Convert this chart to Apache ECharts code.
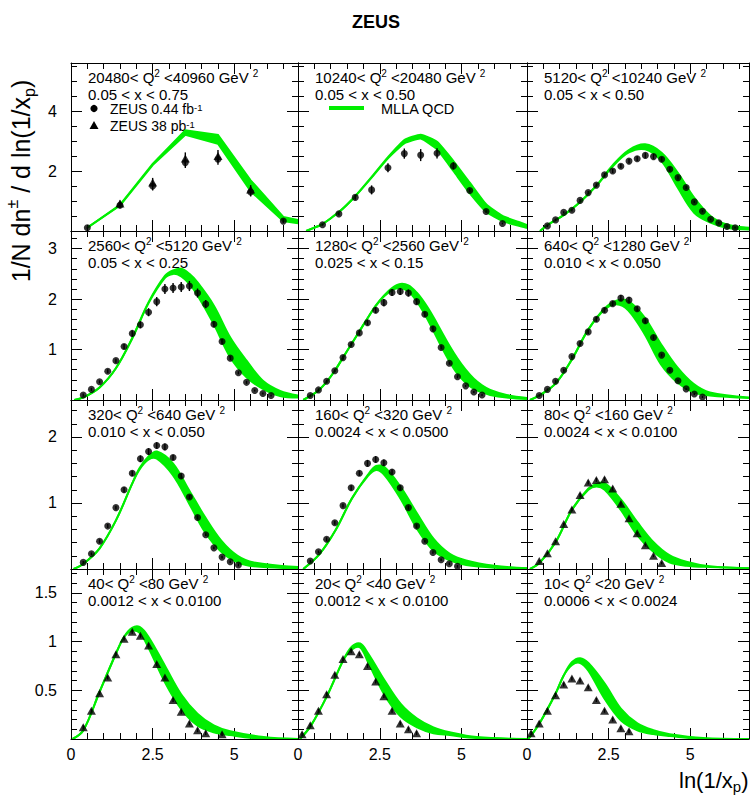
<!DOCTYPE html>
<html>
<head>
<meta charset="utf-8">
<script src="https://cdn.jsdelivr.net/npm/echarts@6/dist/echarts.min.js"></script>
<style>
  html, body { margin: 0; padding: 0; background: #fff; }
  #chart { width: 750px; height: 797px; }
</style>
</head>
<body>
<div id="chart"></div>
<script>
// ---- panel labels ----
const q2Lo = [20480, 10240, 5120, 2560, 1280, 640, 320, 160, 80, 40, 20, 10];
const q2Hi = [40960, 20480, 10240, 5120, 2560, 1280, 640, 320, 160, 80, 40, 20];
const xBins = ['0.05 < x < 0.75', '0.05 < x < 0.50', '0.05 < x < 0.50', '0.05 < x < 0.25',
  '0.025 < x < 0.15', '0.010 < x < 0.050', '0.010 < x < 0.050', '0.0024 < x < 0.0500',
  '0.0024 < x < 0.0100', '0.0012 < x < 0.0100', '0.0012 < x < 0.0100', '0.0006 < x < 0.0024'];

// ---- ZEUS 0.44 fb-1 (circles): [ln(1/xp), value, error] ----
const circ1 = [[0.5,0.11,0.04],[1.5,0.86,0.1],[2.5,1.5,0.15],[3.5,2.28,0.18],[4.5,2.39,0.18],[5.5,1.3,0.15],[6.5,0.33,0.06]];
const circ2 = [[0.75,0.21,0.03],[1.25,0.57,0.05],[1.75,1.12,0.08],[2.25,1.37,0.15],[2.75,2.11,0.15],[3.25,2.58,0.17],
  [3.75,2.53,0.2],[4.25,2.59,0.17],[4.75,2.17,0.12],[5.25,1.35,0.06],[5.75,0.65,0.04],[6.25,0.25,0.03]];
const circ3 = [[0.625,0.17,0.04],[0.875,0.37,0.04],[1.125,0.62,0.04],[1.375,0.69,0.04],[1.625,1.02,0.05],[1.875,1.28,0.05],
  [2.125,1.53,0.06],[2.375,1.87,0.06],[2.625,2.0,0.07],[2.875,2.16,0.07],[3.125,2.33,0.08],[3.375,2.41,0.08],
  [3.625,2.52,0.09],[3.875,2.48,0.09],[4.125,2.39,0.08],[4.375,2.06,0.07],[4.625,1.78,0.06],[4.875,1.45,0.05],
  [5.125,0.97,0.04],[5.375,0.66,0.04],[5.625,0.39,0.03],[5.875,0.27,0.03],[6.125,0.15,0.03],[6.375,0.11,0.03]];
const circ4 = [[0.375,0.1,0.03],[0.625,0.21,0.03],[0.875,0.36,0.03],[1.125,0.57,0.04],[1.375,0.78,0.04],[1.625,1.06,0.05],
  [1.875,1.32,0.06],[2.125,1.49,0.07],[2.375,1.74,0.08],[2.625,1.95,0.09],[2.875,2.2,0.1],[3.125,2.22,0.1],
  [3.375,2.24,0.1],[3.625,2.26,0.1],[3.875,2.12,0.09],[4.125,1.9,0.08],[4.375,1.5,0.06],[4.625,1.16,0.05],
  [4.875,0.83,0.04],[5.125,0.54,0.03],[5.375,0.35,0.03],[5.625,0.19,0.02],[5.875,0.13,0.02],[6.125,0.09,0.02]];
const circ5 = [[0.375,0.09,0.02],[0.625,0.2,0.03],[0.875,0.37,0.03],[1.125,0.58,0.03],[1.375,0.84,0.04],[1.625,1.1,0.04],
  [1.875,1.33,0.05],[2.125,1.53,0.05],[2.375,1.78,0.06],[2.625,1.93,0.07],[2.875,2.13,0.07],[3.125,2.15,0.07],
  [3.375,2.12,0.07],[3.625,1.95,0.06],[3.875,1.7,0.05],[4.125,1.41,0.05],[4.375,1.04,0.04],[4.625,0.73,0.03],
  [4.875,0.46,0.03],[5.125,0.28,0.02],[5.375,0.16,0.02],[5.625,0.1,0.02]];
const circ6 = [[0.375,0.09,0.02],[0.625,0.21,0.02],[0.875,0.37,0.03],[1.125,0.59,0.03],[1.375,0.86,0.03],[1.625,1.12,0.04],
  [1.875,1.35,0.04],[2.125,1.6,0.05],[2.375,1.78,0.05],[2.625,1.91,0.05],[2.875,2.02,0.06],[3.125,1.98,0.06],
  [3.375,1.81,0.05],[3.625,1.57,0.05],[3.875,1.24,0.04],[4.125,0.89,0.03],[4.375,0.59,0.03],[4.625,0.38,0.02],
  [4.875,0.22,0.02],[5.125,0.12,0.02],[5.375,0.06,0.02]];
const circ7 = [[0.375,0.1,0.02],[0.625,0.23,0.02],[0.875,0.42,0.03],[1.125,0.65,0.03],[1.375,0.93,0.03],[1.625,1.2,0.04],
  [1.875,1.45,0.04],[2.125,1.67,0.05],[2.375,1.78,0.05],[2.625,1.87,0.05],[2.875,1.85,0.05],[3.125,1.69,0.04],
  [3.375,1.41,0.04],[3.625,1.09,0.03],[3.875,0.78,0.03],[4.125,0.52,0.02],[4.375,0.32,0.02],[4.625,0.18,0.02],
  [4.875,0.11,0.02],[5.125,0.06,0.02]];
const circ8 = [[0.375,0.12,0.02],[0.625,0.26,0.02],[0.875,0.45,0.03],[1.125,0.7,0.03],[1.375,0.96,0.03],[1.625,1.23,0.04],
  [1.875,1.45,0.04],[2.125,1.6,0.05],[2.375,1.66,0.05],[2.625,1.61,0.05],[2.875,1.47,0.04],[3.125,1.23,0.04],
  [3.375,0.93,0.03],[3.625,0.65,0.03],[3.875,0.42,0.02],[4.125,0.25,0.02],[4.375,0.14,0.02],[4.625,0.08,0.02],
  [4.875,0.04,0.02]];

// ---- ZEUS 38 pb-1 (triangles): [ln(1/xp), value, error] ----
const tri1 = [[1.5,0.92,0.1],[2.5,1.62,0.15],[3.5,2.42,0.2],[4.5,2.5,0.2],[5.5,1.38,0.15]];
const tri9 = [[0.375,0.12,0.02],[0.625,0.24,0.02],[0.875,0.42,0.02],[1.125,0.68,0.02],[1.375,0.9,0.03],[1.625,1.12,0.03],
  [1.875,1.31,0.03],[2.125,1.35,0.03],[2.375,1.36,0.03],[2.625,1.22,0.03],[2.875,0.99,0.03],[3.125,0.77,0.02],
  [3.375,0.54,0.02],[3.625,0.36,0.02],[3.875,0.2,0.02],[4.125,0.09,0.02]];
const tri10 = [[0.375,0.12,0.02],[0.625,0.29,0.02],[0.875,0.47,0.02],[1.125,0.63,0.02],[1.375,0.87,0.02],[1.625,1.03,0.02],
  [1.875,1.1,0.02],[2.125,1.06,0.02],[2.375,0.96,0.02],[2.625,0.77,0.02],[2.875,0.63,0.02],[3.125,0.4,0.02],
  [3.375,0.28,0.02],[3.625,0.16,0.02],[3.875,0.09,0.02],[4.125,0.06,0.02],[4.625,0.05,0.02]];
const tri11 = [[0.125,0.05,0.02],[0.375,0.14,0.02],[0.625,0.29,0.02],[0.875,0.46,0.02],[1.125,0.66,0.02],[1.375,0.82,0.02],
  [1.625,0.9,0.02],[1.875,0.87,0.02],[2.125,0.75,0.02],[2.375,0.59,0.02],[2.625,0.44,0.02],[2.875,0.29,0.02],
  [3.125,0.16,0.02],[3.375,0.1,0.02],[3.625,0.06,0.02]];
const tri12 = [[0.125,0.06,0.02],[0.375,0.16,0.02],[0.625,0.29,0.02],[0.875,0.45,0.02],[1.125,0.56,0.02],[1.375,0.62,0.02],
  [1.625,0.6,0.02],[1.875,0.53,0.02],[2.125,0.4,0.02],[2.375,0.29,0.02],[2.625,0.2,0.02],[2.875,0.11,0.02],
  [3.125,0.08,0.02]];

// ---- MLLA QCD band: [ln(1/xp), lower, upper] ----
const band1 = [[0.5,0.11,0.11],[1.5,0.85,0.87],[2.5,2.2,2.24],[3.5,3.21,3.36],[4.5,2.91,3.2],[5.5,1.33,1.69],[6.5,0.33,0.47],[6.95,0.26,0.37]];
const band2 = [[0.25,0,0],[0.75,0.23,0.23],[1.25,0.63,0.63],[1.75,1.16,1.16],[2.25,1.78,1.8],[2.75,2.42,2.46],[3.25,2.92,3.03],
  [3.75,3.08,3.21],[4.25,2.72,2.97],[4.75,2.0,2.33],[5.25,1.26,1.61],[5.75,0.64,0.89],[6.25,0.33,0.5],[6.75,0.17,0.3],[7.0,0.1,0.2]];
const band3 = [[0.4,0,0],[0.63,0.2,0.2],[1.12,0.53,0.53],[1.63,0.97,0.97],[2.13,1.51,1.52],[2.62,2.15,2.19],[3.12,2.62,2.7],
  [3.62,2.72,2.89],[4.12,2.33,2.61],[4.62,1.44,1.94],[5.12,0.61,1.11],[5.62,0.28,0.5],[6.12,0.11,0.22],[6.82,0.05,0.11]];
const band4 = [[0.1,0,0],[0.375,0.05,0.05],[0.875,0.25,0.25],[1.375,0.63,0.63],[1.875,1.22,1.23],[2.375,1.92,1.94],
  [2.875,2.42,2.46],[3.125,2.5,2.57],[3.375,2.45,2.6],[3.625,2.3,2.5],[3.875,2.07,2.33],[4.375,1.5,1.87],[4.875,0.85,1.24],
  [5.375,0.45,0.78],[5.875,0.22,0.38],[6.4,0.08,0.18],[6.95,0.05,0.09]];
const band5 = [[0.16,0,0],[0.375,0.08,0.08],[0.625,0.19,0.19],[0.875,0.36,0.36],[1.125,0.58,0.58],[1.375,0.84,0.84],
  [1.625,1.1,1.1],[1.875,1.36,1.36],[2.125,1.62,1.62],[2.375,1.86,1.87],[2.625,2.05,2.07],[2.875,2.18,2.22],[3.125,2.22,2.3],
  [3.375,2.15,2.27],[3.625,1.96,2.13],[3.875,1.7,1.92],[4.125,1.39,1.66],[4.375,1.07,1.37],[4.625,0.77,1.08],[4.875,0.52,0.82],
  [5.125,0.34,0.6],[5.375,0.22,0.42],[5.625,0.15,0.29],[5.875,0.1,0.2],[6.375,0.05,0.1],[7.0,0.02,0.04]];
const band6 = [[0.09,0,0],[0.38,0.09,0.09],[0.88,0.33,0.33],[1.38,0.81,0.81],[1.87,1.39,1.39],[2.37,1.79,1.81],[2.74,1.9,1.97],
  [3.1,1.78,1.96],[3.6,1.31,1.64],[4.1,0.71,1.11],[4.6,0.35,0.65],[5.1,0.15,0.32],[5.6,0.09,0.15],[6.8,0.04,0.05]];
const band7 = [[0.08,0,0],[0.38,0.08,0.08],[0.87,0.31,0.31],[1.38,0.74,0.74],[1.87,1.29,1.29],[2.1,1.51,1.53],[2.38,1.66,1.71],
  [2.63,1.67,1.78],[3.12,1.42,1.6],[3.62,0.99,1.19],[4.1,0.56,0.79],[4.6,0.26,0.43],[5.1,0.1,0.2],[5.6,0.04,0.1],[6.95,0.01,0.03]];
const band8 = [[0.16,0,0],[0.65,0.22,0.22],[1.15,0.59,0.59],[1.65,1.07,1.07],[2.14,1.41,1.43],[2.39,1.5,1.56],[2.65,1.42,1.54],
  [3.14,1.06,1.24],[3.64,0.61,0.84],[4.14,0.28,0.46],[4.64,0.13,0.23],[5.14,0.06,0.13],[6.0,0.02,0.05],[7.0,0.01,0.01]];
const band9 = [[0.09,0,0],[0.38,0.09,0.09],[0.88,0.41,0.41],[1.38,0.9,0.9],[1.88,1.2,1.22],[2.13,1.25,1.29],[2.38,1.2,1.3],
  [2.88,0.89,1.05],[3.38,0.51,0.71],[3.87,0.26,0.41],[4.36,0.1,0.21],[4.88,0.05,0.11],[5.6,0.03,0.04],[6.8,0.01,0.01]];
const band10 = [[0.05,0,0],[0.38,0.09,0.09],[0.87,0.48,0.48],[1.38,0.88,0.88],[1.63,1.05,1.05],[1.87,1.11,1.14],[2.1,1.09,1.15],
  [2.37,0.94,1.05],[2.88,0.58,0.75],[3.37,0.31,0.46],[3.87,0.14,0.26],[4.37,0.07,0.14],[4.87,0.04,0.08],[5.9,0,0.02],[6.95,0,0]];
const band11 = [[0.06,0,0],[0.4,0.14,0.14],[0.9,0.45,0.45],[1.4,0.82,0.82],[1.65,0.92,0.95],[1.9,0.94,0.98],[2.14,0.79,0.88],
  [2.65,0.45,0.6],[3.14,0.23,0.36],[3.64,0.12,0.21],[4.14,0.06,0.12],[4.64,0.04,0.07],[5.46,0.01,0.02],[7.0,0,0]];
const band12 = [[0.04,0,0],[0.38,0.16,0.16],[0.88,0.47,0.47],[1.12,0.65,0.65],[1.38,0.76,0.79],[1.63,0.78,0.83],[1.88,0.7,0.78],
  [2.38,0.41,0.57],[2.88,0.19,0.31],[3.38,0.09,0.16],[3.87,0.05,0.09],[4.37,0.03,0.05],[5.4,0,0.01],[6.8,0,0]];

const circles = [circ1, circ2, circ3, circ4, circ5, circ6, circ7, circ8, [], [], [], []];
const triangles = [tri1, [], [], [], [], [], [], [], tri9, tri10, tri11, tri12];
const bands = [band1, band2, band3, band4, band5, band6, band7, band8, band9, band10, band11, band12];

// ---- layout ----
const colLeft = [71, 298, 527];
const colWidth = [227, 229, 222];
const xMax = [6.95, 7.0, 6.8];
const rowTop = [63, 231, 400, 569];
const rowHeight = [168, 169, 169, 170];
const yMax = [5.6, 3.35, 2.56, 1.745];
const yMajor = [2, 1, 1, 0.5];
const yMinor = [0.5, 0.2, 0.2, 0.1];

const FONT = '"Liberation Sans", Arial, Helvetica, sans-serif';
const GREEN = '#00ee00';
const black = { color: '#000', width: 1 };

function axisSet(p, dim, posA, posB, max, major, minor, labels) {
  const base = {
    gridIndex: p, type: 'value', min: 0, max: max,
    splitLine: { show: false },
    axisLine: { show: false, onZero: false },
    axisLabel: { show: false }
  };
  const lineOn = { show: true, onZero: false, lineStyle: black };
  const minorTick = { show: true, inside: true, length: 6, lineStyle: black };
  const majorTick = { show: true, inside: true, length: 11, lineStyle: black };
  const lab = dim === 'x'
    ? { show: labels, showMaxLabel: false, margin: 7, fontSize: 16, color: '#000', fontFamily: FONT }
    : { show: labels, showMaxLabel: false, showMinLabel: false, margin: 14, fontSize: 16, color: '#000', fontFamily: FONT };
  return [
    Object.assign({}, base, { position: posA, interval: minor, axisLine: lineOn, axisTick: minorTick }),
    Object.assign({}, base, { position: posA, interval: major, axisTick: majorTick, axisLabel: lab }),
    Object.assign({}, base, { position: posB, interval: minor, axisLine: lineOn, axisTick: minorTick }),
    Object.assign({}, base, { position: posB, interval: major, axisTick: majorTick })
  ];
}

function bandRenderer(band, smooth) {
  return function (params, api) {
    if (params.dataIndex !== 0) return null;
    const top = band.map(d => api.coord([d[0], d[2]]));
    const bot = band.map(d => api.coord([d[0], d[1]]));
    const line = { stroke: GREEN, lineWidth: 2, fill: null };
    return {
      type: 'group',
      children: [
        { type: 'polygon', shape: { points: top.concat(bot.slice().reverse()), smooth: smooth }, style: { fill: GREEN } },
        { type: 'polyline', shape: { points: top, smooth: smooth }, style: line },
        { type: 'polyline', shape: { points: bot, smooth: smooth }, style: line }
      ]
    };
  };
}

function errorRenderer(params, api) {
  const x = api.value(0), y = api.value(1), e = api.value(2);
  const a = api.coord([x, y - e]);
  const b = api.coord([x, y + e]);
  return { type: 'line', shape: { x1: a[0], y1: a[1], x2: b[0], y2: b[1] }, style: { stroke: '#000', lineWidth: 1.4 } };
}

const grid = [], xAxis = [], yAxis = [], series = [], graphic = [];
const rich = {
  t: { fontSize: 15, fontFamily: FONT, fill: '#000', lineHeight: 18 },
  s: { fontSize: 10, fontFamily: FONT, fill: '#000', lineHeight: 10, verticalAlign: 'top' }
};

for (let p = 0; p < 12; p++) {
  const r = Math.floor(p / 3), c = p % 3;
  grid.push({ left: colLeft[c], top: rowTop[r], width: colWidth[c], height: rowHeight[r], containLabel: false, outerBoundsMode: 'none' });
  xAxis.push(...axisSet(p, 'x', 'bottom', 'top', xMax[c], 2.5, 0.5, r === 3));
  yAxis.push(...axisSet(p, 'y', 'left', 'right', yMax[r], yMajor[r], yMinor[r], c === 0));
  const ax = { xAxisIndex: 4 * p, yAxisIndex: 4 * p };

  series.push(Object.assign({
    type: 'custom', data: bands[p], encode: { x: 0, y: [1, 2] }, clip: true, silent: true, z: 2,
    renderItem: bandRenderer(bands[p], p === 0 ? 0 : (p === 1 ? 0.15 : 0.35))
  }, ax));
  [circles[p], triangles[p]].forEach((pts, k) => {
    if (!pts.length) return;
    series.push(Object.assign({
      type: 'custom', data: pts, encode: { x: 0, y: 1 }, clip: true, silent: true, z: 3, renderItem: errorRenderer
    }, ax));
    series.push(Object.assign({
      type: 'scatter', data: pts.map(d => [d[0], d[1]]), symbol: k === 0 ? 'circle' : 'triangle',
      symbolSize: k === 0 ? 7 : [9, 8], itemStyle: { color: '#000' }, silent: true, z: 4
    }, ax));
  });

  const tx = colLeft[c] + 17, ty = rowTop[r] + 14;
  graphic.push({
    type: 'text', x: tx, y: ty, silent: true,
    style: { text: '{t|' + q2Lo[p] + '< Q}{s|2}{t| <' + q2Hi[p] + ' GeV }{s|2}', rich: rich, textVerticalAlign: 'middle' }
  });
  graphic.push({
    type: 'text', x: tx, y: ty + 17, silent: true,
    style: { text: xBins[p], fontSize: 15, lineHeight: 15, fontFamily: FONT, fill: '#000', textVerticalAlign: 'middle' }
  });
}

// legends drawn inside the first two panels
const legRich = {
  t: { fontSize: 14, fontFamily: FONT, fill: '#000', lineHeight: 13 },
  s: { fontSize: 9.5, fontFamily: FONT, fill: '#000', lineHeight: 8, verticalAlign: 'top' }
};
graphic.push(
  { type: 'circle', shape: { cx: 94, cy: 108.5, r: 3.6 }, style: { fill: '#000' }, silent: true },
  { type: 'text', x: 110, y: 109, silent: true, style: { text: '{t|ZEUS 0.44 fb}{s|-1}', rich: legRich, textVerticalAlign: 'middle' } },
  { type: 'polygon', shape: { points: [[89.5, 129], [98.5, 129], [94, 121]] }, style: { fill: '#000' }, silent: true },
  { type: 'text', x: 110, y: 125.5, silent: true, style: { text: '{t|ZEUS 38 pb}{s|-1}', rich: legRich, textVerticalAlign: 'middle' } },
  { type: 'line', shape: { x1: 329, y1: 108, x2: 364, y2: 108 }, style: { stroke: GREEN, lineWidth: 4 }, silent: true },
  { type: 'text', x: 381, y: 108.5, silent: true, style: { text: 'MLLA QCD', fontSize: 14.5, lineHeight: 14, fontFamily: FONT, fill: '#000', textVerticalAlign: 'middle' } }
);

// titles
graphic.push(
  { type: 'text', x: 376, y: 22, silent: true,
    style: { text: 'ZEUS', fontSize: 18, fontWeight: 'bold', fontFamily: FONT, fill: '#000', textAlign: 'center', textVerticalAlign: 'middle' } },
  { type: 'text', x: 21, y: 181, rotation: Math.PI / 2, silent: true,
    style: {
      text: '{t|1/N dn}{s|±}{t| / d ln(1/x}{b|p}{t|)}', textAlign: 'center', textVerticalAlign: 'middle',
      rich: {
        t: { fontSize: 25, fontFamily: FONT, fill: '#000', lineHeight: 33 },
        s: { fontSize: 16, fontFamily: FONT, fill: '#000', lineHeight: 16, verticalAlign: 'top' },
        b: { fontSize: 16, fontFamily: FONT, fill: '#000', lineHeight: 16, verticalAlign: 'bottom' }
      }
    } },
  { type: 'text', x: 679, y: 780, silent: true,
    style: {
      text: '{t|ln(1/x}{b|p}{t|)}', textVerticalAlign: 'middle',
      rich: {
        t: { fontSize: 22, fontFamily: FONT, fill: '#000', lineHeight: 28 },
        b: { fontSize: 15, fontFamily: FONT, fill: '#000', lineHeight: 15, verticalAlign: 'bottom' }
      }
    } }
);

const chart = echarts.init(document.getElementById('chart'), null, { renderer: 'svg' });
chart.setOption({
  animation: false,
  backgroundColor: '#fff',
  grid: grid,
  xAxis: xAxis,
  yAxis: yAxis,
  series: series,
  graphic: graphic
});
</script>
</body>
</html>
